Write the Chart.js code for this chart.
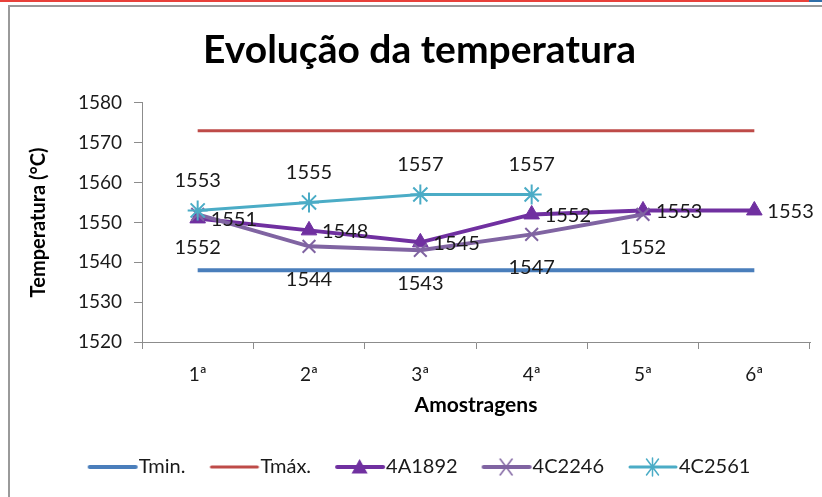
<!DOCTYPE html>
<html lang="pt">
<head>
<meta charset="UTF-8">
<title>Evolução da temperatura</title>
<script src="https://cdn.jsdelivr.net/npm/chart.js"></script>
<style>
  html, body { margin: 0; padding: 0; background: #fff; }
  #wrap { position: relative; width: 822px; height: 497px; overflow: hidden; background: #fff; }
  .red { position: absolute; left: 0; top: 0; width: 809px; height: 2px; background: #e8413a; }
  .blue { position: absolute; left: 809px; top: 0; width: 13px; height: 2px; background: #2f6ea8; }
  .frame { position: absolute; left: 8px; top: 5px; right: -4px; bottom: -4px; border-left: 2px solid #9a9a9a; border-top: 2px solid #9a9a9a; }
  canvas { position: absolute; left: 0; top: 0; }
</style>
</head>
<body>
<div id="wrap">
  <div class="red"></div><div class="blue"></div>
  <div class="frame"></div>
  <canvas id="chart" width="822" height="497"></canvas>
</div>
<script>
// data
const categories = ['1ª', '2ª', '3ª', '4ª', '5ª', '6ª'];
const tMin = [1538, 1538, 1538, 1538, 1538, 1538];
const tMax = [1573, 1573, 1573, 1573, 1573, 1573];
const s4A1892 = [1551, 1548, 1545, 1552, 1553, 1553];
const s4C2246 = [1552, 1544, 1543, 1547, 1552, null];
const s4C2561 = [1553, 1555, 1557, 1557, null, null];
const yTicks = [1520, 1530, 1540, 1550, 1560, 1570, 1580];

const FONT = 'Lato, "Open Sans", sans-serif';
const TEXT = '#1a1a1a';

// legend swatch: line with marker in the middle, shifted right so text sits close
function swatch(color, style, width) {
  const c = document.createElement('canvas');
  c.width = 64; c.height = 22;
  const g = c.getContext('2d');
  g.strokeStyle = color;
  g.lineWidth = width;
  g.lineCap = 'round';
  g.beginPath(); g.moveTo(13, 11); g.lineTo(59, 11); g.stroke();
  const cx = 35.5, cy = 11, r = 8;
  g.fillStyle = color;
  g.lineWidth = 1.5;
  if (style === 'triangle') {
    g.beginPath();
    g.moveTo(cx, cy - r); g.lineTo(cx + r, cy + r * 0.8); g.lineTo(cx - r, cy + r * 0.8);
    g.closePath(); g.fill();
  } else if (style === 'crossRot' || style === 'star') {
    g.beginPath();
    g.moveTo(cx - 6, cy - 8); g.lineTo(cx + 6, cy + 8);
    g.moveTo(cx + 6, cy - 8); g.lineTo(cx - 6, cy + 8);
    if (style === 'star') { g.moveTo(cx, cy - 9); g.lineTo(cx, cy + 9); }
    g.stroke();
  }
  return c;
}

// value labels next to points
const pointLabels = {
  id: 'pointLabels',
  afterDatasetsDraw(chart) {
    const ctx = chart.ctx;
    ctx.save();
    ctx.font = '20px ' + FONT;
    ctx.fillStyle = TEXT;
    ctx.textBaseline = 'middle';
    chart.data.datasets.forEach((ds, i) => {
      if (!ds.labelPos) return;
      const meta = chart.getDatasetMeta(i);
      meta.data.forEach((pt, j) => {
        const v = ds.data[j];
        if (v === null || v === undefined) return;
        let x = pt.x, y = pt.y;
        if (ds.labelPos === 'right') { ctx.textAlign = 'left'; x += 13; y += 1; }
        else if (ds.labelPos === 'below') { ctx.textAlign = 'center'; y += 33; }
        else { ctx.textAlign = 'center'; y -= 30; }
        ctx.fillText(String(v), x, y);
      });
    });
    ctx.restore();
  }
};

const lineBase = { fill: false, tension: 0, spanGaps: false };

new Chart(document.getElementById('chart'), {
  type: 'line',
  data: {
    labels: categories,
    datasets: [
      { ...lineBase, label: 'Tmin.', data: tMin, borderColor: '#4a7ebb', borderWidth: 4, pointRadius: 0, order: 5, legendStyle: 'line' },
      { ...lineBase, label: 'Tmáx.', data: tMax, borderColor: '#be4b48', borderWidth: 3, pointRadius: 0, order: 4, legendStyle: 'line' },
      { ...lineBase, label: '4A1892', data: s4A1892, borderColor: '#7030a0', backgroundColor: '#7030a0', borderWidth: 4,
        pointStyle: 'triangle', pointRadius: 9, pointBorderWidth: 1, order: 3, labelPos: 'right', legendStyle: 'triangle' },
      { ...lineBase, label: '4C2246', data: s4C2246, borderColor: '#8064a2', backgroundColor: '#8064a2', borderWidth: 4,
        pointStyle: 'crossRot', pointRadius: 9, pointBorderWidth: 2, order: 2, labelPos: 'below', legendStyle: 'crossRot' },
      { ...lineBase, label: '4C2561', data: s4C2561, borderColor: '#4bacc6', backgroundColor: '#4bacc6', borderWidth: 3,
        pointStyle: 'star', pointRadius: 10, pointBorderWidth: 2, order: 1, labelPos: 'above', legendStyle: 'star' }
    ]
  },
  options: {
    responsive: false,
    animation: false,
    events: [],
    layout: { padding: { left: 26, right: 9, top: 20, bottom: 10 } },
    plugins: {
      title: {
        display: true,
        text: 'Evolução da temperatura',
        color: '#000',
        font: { family: FONT, size: 39, weight: 'bold' },
        padding: { top: 7, bottom: 29 }
      },
      legend: {
        position: 'bottom',
        labels: {
          color: TEXT,
          font: { family: FONT, size: 20 },
          usePointStyle: true,
          pointStyleWidth: 40,
          boxHeight: 20,
          padding: 25,
          generateLabels(chart) {
            return chart.data.datasets.map((ds, i) => ({
              text: ds.label,
              pointStyle: swatch(ds.borderColor, ds.legendStyle, ds.borderWidth),
              fillStyle: ds.borderColor,
              strokeStyle: ds.borderColor,
              lineWidth: 0,
              fontColor: TEXT,
              hidden: false,
              datasetIndex: i
            }));
          }
        }
      },
      tooltip: { enabled: false }
    },
    scales: {
      x: {
        offset: true,
        afterFit(scale) { scale.height = 90; },
        grid: { display: true, drawOnChartArea: false, offset: true, tickLength: 7, color: '#8c8c8c' },
        border: { display: true, color: '#8c8c8c', width: 1 },
        ticks: { color: TEXT, font: { family: FONT, size: 19 }, padding: 14 },
        title: { display: true, text: 'Amostragens', color: '#000', font: { family: FONT, size: 21, weight: 'bold' }, padding: { top: 1, bottom: 14 } }
      },
      y: {
        min: 1520, max: 1580,
        afterBuildTicks(scale) { scale.ticks = yTicks.map(v => ({ value: v })); },
        afterFit(scale) { scale.width = 116; },
        grid: { display: true, drawOnChartArea: false, tickLength: 8, color: '#8c8c8c' },
        border: { display: true, color: '#8c8c8c', width: 1 },
        ticks: { color: TEXT, font: { family: FONT, size: 19 }, padding: 12, callback: v => String(v) },
        title: { display: true, text: 'Temperatura (°C)', color: '#000', font: { family: FONT, size: 20, weight: 'bold' }, padding: { top: 1, bottom: 0 } }
      }
    }
  },
  plugins: [pointLabels]
});
</script>
</body>
</html>
